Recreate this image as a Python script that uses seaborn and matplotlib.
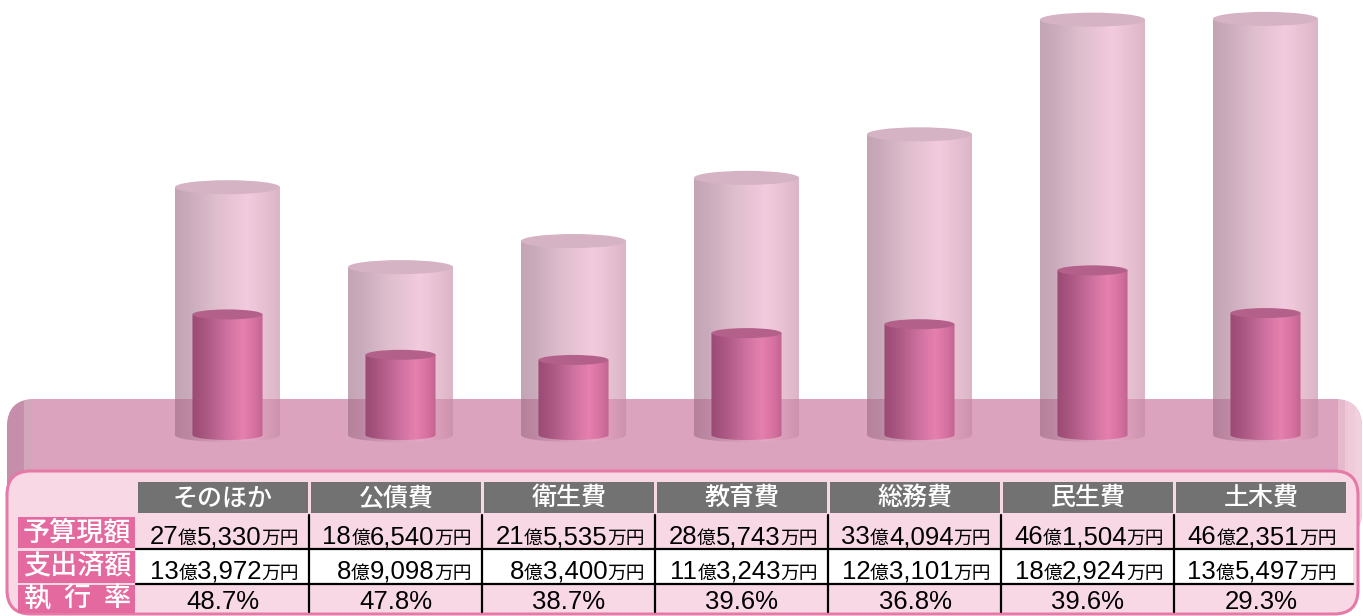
import numpy as np
import matplotlib
matplotlib.use('Agg')
import matplotlib.pyplot as plt
import matplotlib.font_manager as fm
from matplotlib.colors import LinearSegmentedColormap, to_rgb
from matplotlib.patches import Rectangle, FancyBboxPatch, Ellipse, Polygon
import seaborn as sns

# data (億 + 万円)
categories = ['そのほか', '公債費', '衛生費', '教育費', '総務費', '民生費', '土木費']
budget_oku = [27, 18, 21, 28, 33, 46, 46]
budget_man = [5330, 6540, 5535, 5743, 4094, 1504, 2351]
spent_oku = [13, 8, 8, 11, 12, 18, 13]
spent_man = [3972, 9098, 3400, 3243, 3101, 2924, 5497]
rate = [48.7, 47.8, 38.7, 39.6, 36.8, 39.6, 29.3]
row_labels = ['予算現額', '支出済額', '執行率']

budget = [o + m / 10000 for o, m in zip(budget_oku, budget_man)]
spent = [o + m / 10000 for o, m in zip(spent_oku, spent_man)]


def has_font(name):
    try:
        fm.findfont(fm.FontProperties(family=name), fallback_to_default=False)
        return True
    except Exception:
        return False


jp = 'Noto Sans CJK JP'
narrow = has_font('Liberation Sans Narrow')
num_font = 'Liberation Sans Narrow' if narrow else 'Liberation Sans'
num_size = 23 if narrow else 18.5

sns.set_theme(style='white')
plt.rcParams['font.family'] = [jp, 'DejaVu Sans']

W, H = 1363, 616
fig = plt.figure(figsize=(W / 100, H / 100), dpi=100)

# background axes in pixel units
bg = fig.add_axes([0, 0, 1, 1])
bg.set_xlim(0, W)
bg.set_ylim(H, 0)
bg.axis('off')

# platform band
band = FancyBboxPatch((7, 399), 1355, 140, boxstyle='round,pad=0,rounding_size=28',
                      facecolor='#dba3bd', edgecolor='none', zorder=1)
bg.add_patch(band)
rim = LinearSegmentedColormap.from_list('rim', [
    (0.0, '#c58ea9'), (0.008, '#c890ac'), (0.013, '#d6afc2'), (0.0165, '#dba3bd'),
    (0.985, '#dba3bd'), (0.99, '#ecc5d6'), (1.0, '#f2d0de')])
im = bg.imshow(np.linspace(0, 1, 400)[None, :], cmap=rim, extent=[7, 1362, 539, 399],
               aspect='auto', zorder=1)
im.set_clip_path(band)

# lower panel
panel = FancyBboxPatch((7, 471), 1351, 143, boxstyle='round,pad=0,rounding_size=24',
                       facecolor='#f9d8e6', edgecolor='#e57aa8', linewidth=2.2, zorder=2)
bg.add_patch(panel)

col_w = 173
first_left = 138
for i, cat in enumerate(categories):
    left = first_left + i * col_w
    bg.add_patch(Rectangle((left, 482), 170, 31, facecolor='#727272', edgecolor='none', zorder=3))
    bg.text(left + 85, 498, cat, color='white', fontsize=18, weight='medium',
            ha='center', va='center', zorder=4)

# white row
bg.add_patch(Rectangle((136, 549), 1217, 35, facecolor='white', edgecolor='none', zorder=3))
for y in (549, 584):
    bg.plot([136, 1353], [y, y], color='black', lw=1.6, zorder=5)
for i in range(1, 7):
    x = first_left + i * col_w - 2
    bg.plot([x, x], [515, 612], color='black', lw=1.6, zorder=5)

label_rows = [(517, 31), (551, 32), (585, 28)]
for (y0, hh), lab in zip(label_rows, row_labels):
    bg.add_patch(Rectangle((18, y0), 117, hh, facecolor='#e4699f', edgecolor='none', zorder=3))
    cy = y0 + hh / 2
    if len(lab) == 4:
        bg.text(77, cy, lab, color='white', fontsize=19.5, weight='medium',
                ha='center', va='center', zorder=4)
    else:
        for ch, cx in zip(lab, (38, 77, 117)):
            bg.text(cx, cy, ch, color='white', fontsize=19.5, weight='medium',
                    ha='center', va='center', zorder=4)

renderer = fig.canvas.get_renderer()


def money_cell(right, base, oku, man):
    pieces = [(str(oku), 'num'), ('億', 'jp'), (f'{man:,}', 'num'), ('万円', 'jp')]
    x = right
    for s, kind in reversed(pieces):
        if kind == 'num':
            t = bg.text(x, base, s, fontsize=num_size, family=num_font, color='black',
                        ha='right', va='baseline', zorder=6)
        else:
            t = bg.text(x, base, s, fontsize=13.5, family=jp, color='black',
                        ha='right', va='baseline', zorder=6)
        x -= t.get_window_extent(renderer).width


for i in range(7):
    right = first_left + i * col_w + 170 - 9
    money_cell(right, 544, budget_oku[i], budget_man[i])
    money_cell(right, 579, spent_oku[i], spent_man[i])
    bg.text(first_left + i * col_w + 85, 609, f'{rate[i]}%', fontsize=18.5,
            family='Liberation Sans', color='black', ha='center', va='baseline', zorder=6)

# cylinder axes
ax = fig.add_axes([141 / W, 0, 1211 / W, 1])
ax.patch.set_visible(False)
sns.barplot(x=categories, y=budget, ax=ax, width=0.607, color='#d9b3c6', saturation=1)
sns.barplot(x=categories, y=spent, ax=ax, width=0.405, color='#c0628e', saturation=1)
px_per = 9.0
ylo, yhi = -(H - 435) / px_per, 435 / px_per


def on_white(cols, a):
    out = []
    for p, c in cols:
        r = np.array(to_rgb(c))
        out.append((p, tuple(np.clip((r - (1 - a)) / a, 0, 1))))
    return out


alpha_out = 0.62
outer_cmap = LinearSegmentedColormap.from_list('outer', on_white([
    (0.0, '#c3a5b5'), (0.12, '#c9aabb'), (0.35, '#dcbccb'), (0.68, '#f3cbde'),
    (0.86, '#e6c0d1'), (1.0, '#dab5c6')], alpha_out))
inner_cmap = LinearSegmentedColormap.from_list('inner', [
    (0.0, '#9a4a74'), (0.22, '#ad5a85'), (0.5, '#cf72a1'), (0.72, '#e680ae'),
    (0.9, '#d4709f'), (1.0, '#c2638f')])
grad = np.linspace(0, 1, 256)[None, :]


def cylinder(patch, cmap, cap, alpha, b, z):
    x0, w, h = patch.get_x(), patch.get_width(), patch.get_height()
    cx = x0 + w / 2
    patch.set_visible(False)
    th = np.linspace(np.pi, 2 * np.pi, 80)
    arc = np.column_stack([cx + w / 2 * np.cos(th), b * np.sin(th)])
    verts = [(x0, h), (x0, 0)] + arc.tolist() + [(x0 + w, h)]
    clip = Polygon(verts, closed=True, transform=ax.transData, facecolor='none', edgecolor='none')
    ax.add_patch(clip)
    img = ax.imshow(grad, cmap=cmap, extent=[x0, x0 + w, -b, h], aspect='auto',
                    alpha=alpha, zorder=z, interpolation='bilinear')
    img.set_clip_path(clip)
    ax.add_patch(Ellipse((cx, h), w, 2 * b, facecolor=cap, edgecolor='none', zorder=z + 1))


bars = ax.patches[:14]
for p in bars[:7]:
    cylinder(p, outer_cmap, '#d5b2c4', alpha_out, 7 / px_per, 2)
for p in bars[7:14]:
    cylinder(p, inner_cmap, '#b3618a', 1.0, 5 / px_per, 4)

ax.set_xlim(-0.5, 6.5)
ax.set_ylim(ylo, yhi)
ax.axis('off')

fig.savefig('out.png', dpi=100)
